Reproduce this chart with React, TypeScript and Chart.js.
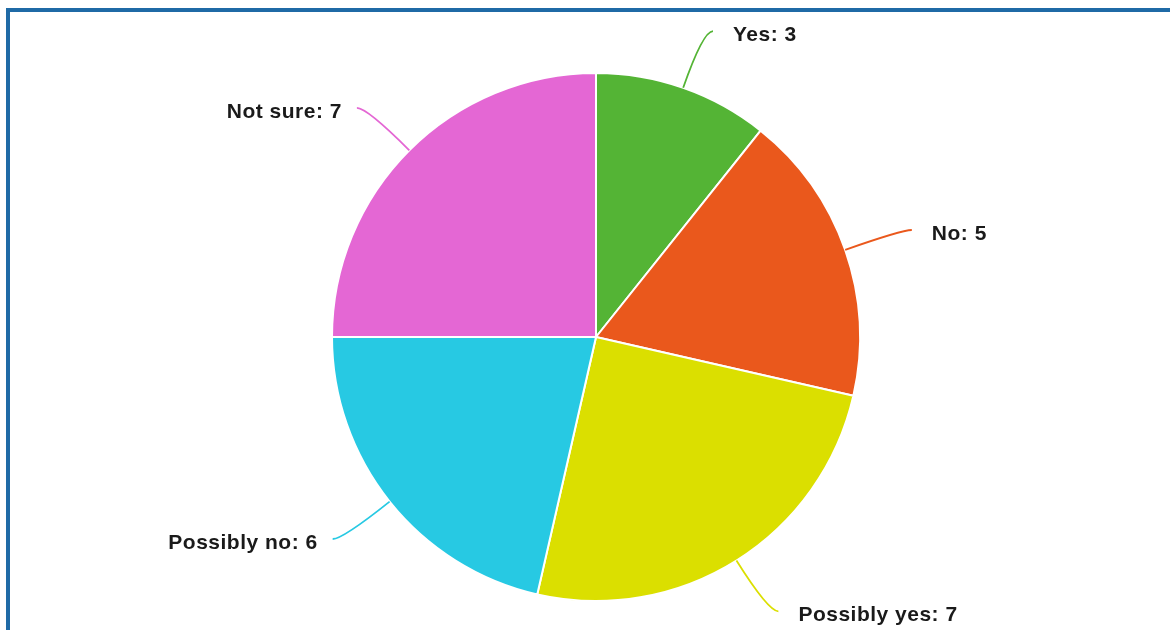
import React, { useEffect, useRef } from "react";
import { Chart, registerables } from "chart.js";

Chart.register(...registerables);

const categories = ["Yes", "No", "Possibly yes", "Possibly no", "Not sure"];
const counts = [3, 5, 7, 6, 7];
const sliceColors = ["#54b435", "#ea581c", "#dbdf00", "#27c9e3", "#e467d4"];

const leaderPlugin = {
  id: "leaderLabels",
  afterDatasetsDraw(chart: any) {
    const ctx = chart.ctx;
    const meta = chart.getDatasetMeta(0);
    const ds = chart.data.datasets[0];
    ctx.save();
    meta.data.forEach((arc: any, i: number) => {
      const { x, y, startAngle, endAngle, outerRadius } = arc.getProps(
        ["x", "y", "startAngle", "endAngle", "outerRadius"],
        true
      );
      const mid = (startAngle + endAngle) / 2;
      const c = Math.cos(mid);
      const s = Math.sin(mid);
      const side = c >= 0 ? 1 : -1;
      const p0x = x + c * outerRadius;
      const p0y = y + s * outerRadius;
      const ext = outerRadius + 60;
      const p1x = x + c * ext;
      const p1y = y + s * ext;
      const p2x = p1x + side * 10;
      const p2y = p1y;
      ctx.beginPath();
      ctx.moveTo(p0x, p0y);
      ctx.quadraticCurveTo(p1x, p1y, p2x, p2y);
      ctx.strokeStyle = ds.backgroundColor[i];
      ctx.lineWidth = 1.8;
      ctx.stroke();

      ctx.font = "bold 21px 'Liberation Sans', Arial, sans-serif";
      (ctx as any).letterSpacing = "0.5px";
      ctx.fillStyle = "#1a1a1a";
      ctx.textBaseline = "middle";
      ctx.textAlign = side > 0 ? "left" : "right";
      const label = `${chart.data.labels[i]}: ${ds.data[i]}`;
      ctx.fillText(label, p2x + side * (side > 0 ? 20 : 15), p2y + 4);
    });
    ctx.restore();
  },
};

export default function App() {
  const ref = useRef<HTMLCanvasElement | null>(null);
  useEffect(() => {
    if (!ref.current) return;
    const chart = new Chart(ref.current, {
      type: "pie",
      data: {
        labels: categories,
        datasets: [
          {
            data: counts,
            backgroundColor: sliceColors,
            borderColor: "#ffffff",
            borderWidth: 2,
            hoverOffset: 0,
            offset: 0,
          },
        ],
      },
      options: {
        responsive: false,
        animation: false,
        radius: 264,
        layout: { padding: { top: 73, bottom: 29, left: 200, right: 178 } },
        plugins: {
          legend: { display: false },
          tooltip: { enabled: false },
        },
      } as any,
      plugins: [leaderPlugin],
    });
    return () => chart.destroy();
  }, []);

  return (
    <div
      style={{
        position: "absolute",
        left: 0,
        top: 0,
        width: 1170,
        height: 630,
        background: "#ffffff",
        overflow: "hidden",
      }}
    >
      <div
        style={{
          position: "absolute",
          left: 6,
          top: 8,
          width: 1164,
          height: 622,
          borderTop: "4px solid #1f6aa6",
          borderLeft: "4px solid #1f6aa6",
          boxSizing: "border-box",
        }}
      />
      <canvas
        ref={ref}
        width={1170}
        height={630}
        style={{ position: "absolute", left: 0, top: 0 }}
      />
    </div>
  );
}
